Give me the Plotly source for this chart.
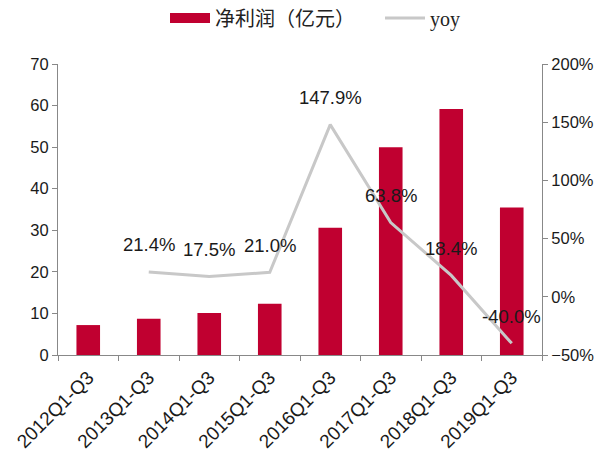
import plotly.graph_objects as go

categories = ["2012Q1-Q3", "2013Q1-Q3", "2014Q1-Q3", "2015Q1-Q3",
              "2016Q1-Q3", "2017Q1-Q3", "2018Q1-Q3", "2019Q1-Q3"]
net_profit = [7.2, 8.7, 10.1, 12.3, 30.6, 50.0, 59.2, 35.5]
yoy_categories = categories[1:]
yoy_pct = [21.4, 17.5, 21.0, 147.9, 63.8, 18.4, -40.0]
yoy_labels = ["21.4%", "17.5%", "21.0%", "147.9%", "63.8%", "18.4%", "-40.0%"]

BAR_COLOR = "#C00030"
LINE_COLOR = "#C8C8C8"

fig = go.Figure()
fig.add_trace(go.Bar(
    x=categories, y=net_profit, name="净利润（亿元）",
    marker=dict(color=BAR_COLOR, line=dict(width=0)),
    width=0.39, showlegend=False, legendgroup="np",
))
# legend proxy so the swatch is a wide red band as in the original
fig.add_trace(go.Scatter(
    x=[None], y=[None], name="净利润（亿元）" + "\u00a0" * 4, mode="lines",
    line=dict(color=BAR_COLOR, width=10), legendgroup="np",
))
fig.add_trace(go.Scatter(
    x=yoy_categories, y=yoy_pct, name="yoy", yaxis="y2",
    mode="lines", line=dict(color=LINE_COLOR, width=3),
))

for c, v, t in zip(yoy_categories, yoy_pct, yoy_labels):
    fig.add_annotation(x=c, y=v, xref="x", yref="y2", text=t,
                       showarrow=False, yshift=27,
                       font=dict(family="Liberation Sans, Arial", size=18.5, color="#1a1a1a"))

axis_font = dict(family="Liberation Sans, Arial", size=16.5, color="#1a1a1a")
fig.update_layout(
    width=611, height=453,
    margin=dict(l=50, r=77, t=56, b=106),
    plot_bgcolor="white", paper_bgcolor="white",
    showlegend=True,
    legend=dict(orientation="h", x=0.531, xanchor="center", y=0.978, yref="container",
                yanchor="middle",
                font=dict(family="Liberation Serif, Noto Sans CJK SC", size=20, color="#222"),
                itemwidth=40, tracegroupgap=0, traceorder="normal"),
    xaxis=dict(type="category", tickson="boundaries", ticks="outside", ticklen=5,
               tickcolor="#888", showline=True, linecolor="#888", linewidth=1,
               tickangle=-45, tickfont=dict(family="Liberation Sans, Arial", size=19, color="#1a1a1a"),
               ticklabelstandoff=3,
               showgrid=False, automargin=False, range=[-0.5, 7.5]),
    yaxis=dict(range=[0, 70], dtick=10, ticks="outside", ticklen=5, tickcolor="#888",
               showline=True, linecolor="#888", linewidth=1, showgrid=False,
               zeroline=False, tickfont=axis_font, automargin=False),
    yaxis2=dict(range=[-50, 200], dtick=50, overlaying="y", side="right",
                ticks="outside", ticklen=5, tickcolor="#888", ticksuffix="%",
                showline=True, linecolor="#888", linewidth=1, showgrid=False,
                zeroline=False, tickfont=axis_font, automargin=False),
)

fig.write_html("out.html")
